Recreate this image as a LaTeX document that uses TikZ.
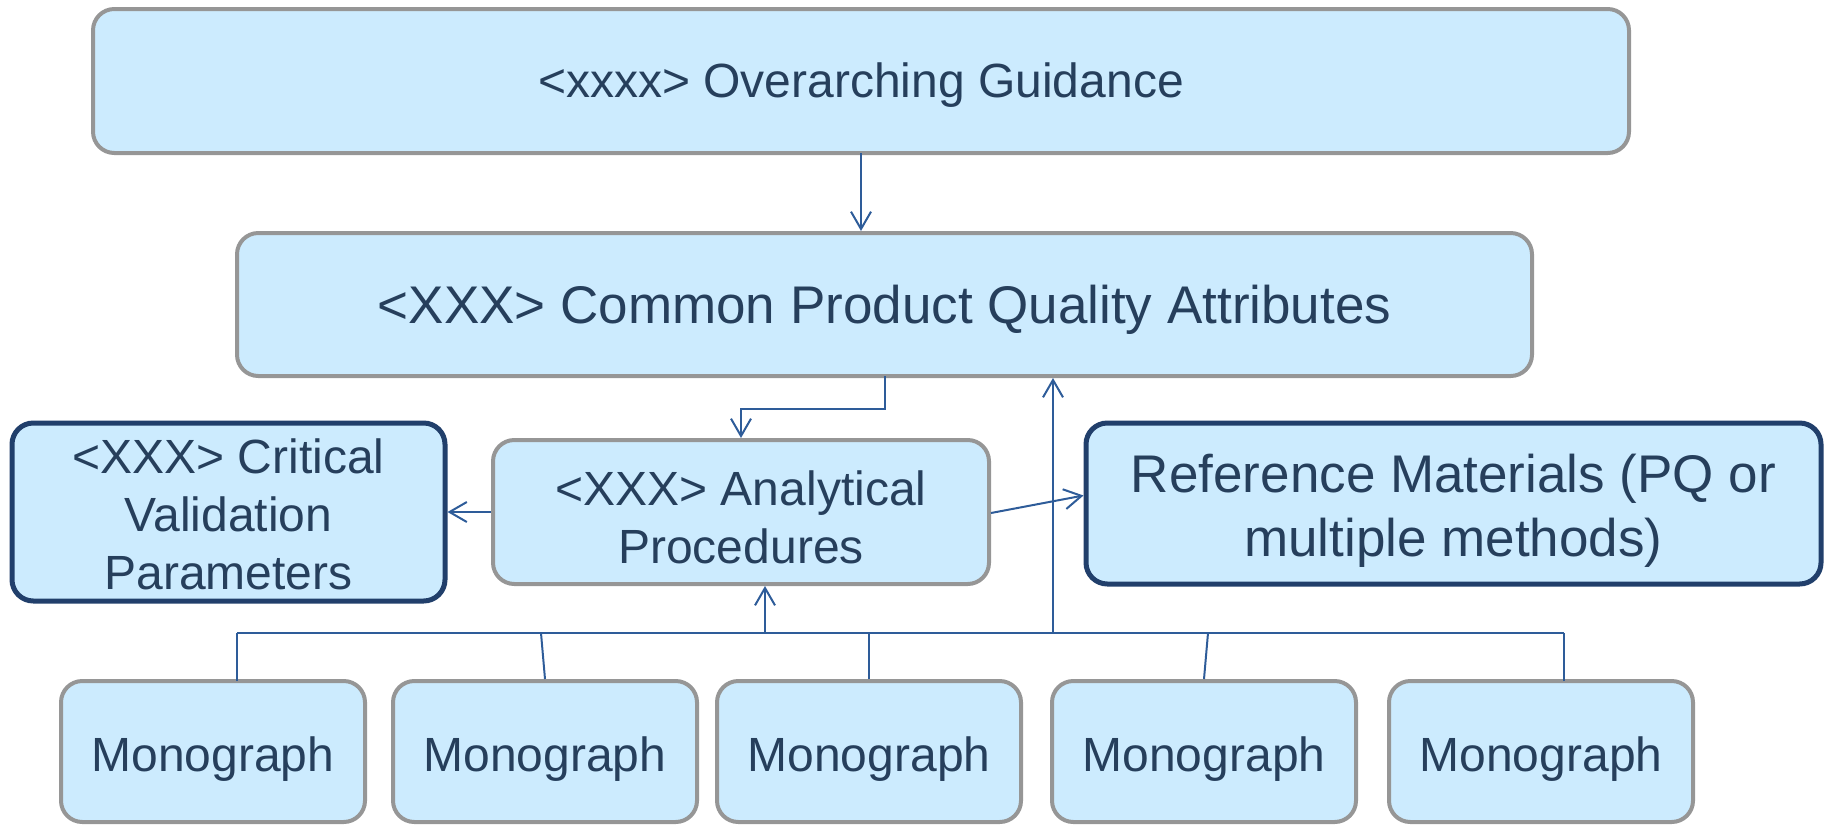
\documentclass[tikz,border=0pt]{standalone}
\usepackage{fontspec}
\setmainfont{Liberation Sans}
\usetikzlibrary{arrows.meta}
\definecolor{boxfill}{HTML}{CCEBFE}
\definecolor{greyline}{HTML}{969696}
\definecolor{darkline}{HTML}{213F6B}
\definecolor{txt}{HTML}{263F5C}
\definecolor{conn}{HTML}{2E5C99}
\newcommand\txtdown[1]{\rule{0pt}{\dimexpr0.72em+#1\relax}}
\tikzset{
  gbox/.style={draw=greyline, line width=3pt, fill=boxfill, rounded corners=16pt, text=txt, align=center, inner sep=0pt},
  dbox/.style={draw=darkline, line width=3.75pt, fill=boxfill, rounded corners=16pt, text=txt, align=center, inner sep=0pt},
  fsmall/.style={font=\fontsize{36}{43.5}\selectfont},
  fbig/.style={font=\fontsize{39.75}{48}\selectfont},
  link/.style={draw=conn, line width=1.5pt},
  arr/.style={link, -{Straight Barb[length=13pt,width=15pt,line width=1.5pt]}},
}
\begin{document}
\begin{tikzpicture}[x=0.75pt,y=-0.75pt]
\useasboundingbox (0,0) rectangle (1827,825);
\node[gbox, fsmall, minimum width=1152pt, minimum height=108pt] (top) at (861,81) {\txtdown{7pt}<xxxx> Overarching Guidance};
\node[gbox, fbig, minimum width=971.25pt, minimum height=107.25pt] (cpqa) at (884.5,304.5) {\txtdown{8.7pt}<XXX> Common Product Quality Attributes};
\node[dbox, fsmall, minimum width=324.75pt, minimum height=133.5pt] (crit) at (228.5,512) {\txtdown{3.5pt}<XXX> Critical\\Validation\\Parameters};
\node[gbox, fsmall, minimum width=372pt, minimum height=108pt] (anal) at (741,512) {\txtdown{8pt}<XXX> Analytical\\Procedures};
\node[dbox, fbig, minimum width=551.25pt, minimum height=120.75pt] (ref) at (1453.5,503.5) {\txtdown{11pt}Reference Materials (PQ or\\multiple methods)};
\foreach \i/\cx in {1/213,2/545,3/869,4/1204,5/1541}{
  \node[gbox, fsmall, minimum width=228pt, minimum height=105.75pt] (m\i) at (\cx,751.5) {\txtdown{12pt}Monograph};
}
% coordinates
\coordinate (busL) at (237,633);
\coordinate (busR) at (1564,633);
\coordinate (m1top) at (237,681);
\coordinate (m5top) at (1564,681);
\coordinate (b2) at (541,633);
\coordinate (b4) at (1208,633);
\coordinate (elbowR) at (885,409);
\coordinate (elbowL) at (741,409);
\coordinate (upA) at (765,633);
\coordinate (upB) at (1053,633);
\coordinate (cpqaOut) at (885,376);
\coordinate (t1) at (861,153);
% connectors
\draw[arr] (t1) -- (t1 |- cpqa.north);
\draw[arr] (cpqaOut) -- (elbowR) -- (elbowL) -- (anal.north);
\draw[link] (busL) -- (busR);
\draw[arr] (upA) -- (upA |- anal.south);
\draw[arr] (upB) -- (upB |- cpqa.south);
\draw[arr] (anal.west) -- (crit.east);
\draw[arr] ([yshift=-0.75pt]anal.east) -- ([yshift=6pt]ref.west);
\draw[link] (m1top) -- (busL);
\draw[link] (m2.north) -- (b2);
\draw[link] (m3.north) -- (m3.north |- busL);
\draw[link] (m4.north) -- (b4);
\draw[link] (m5top) -- (busR);
\end{tikzpicture}
\end{document}
